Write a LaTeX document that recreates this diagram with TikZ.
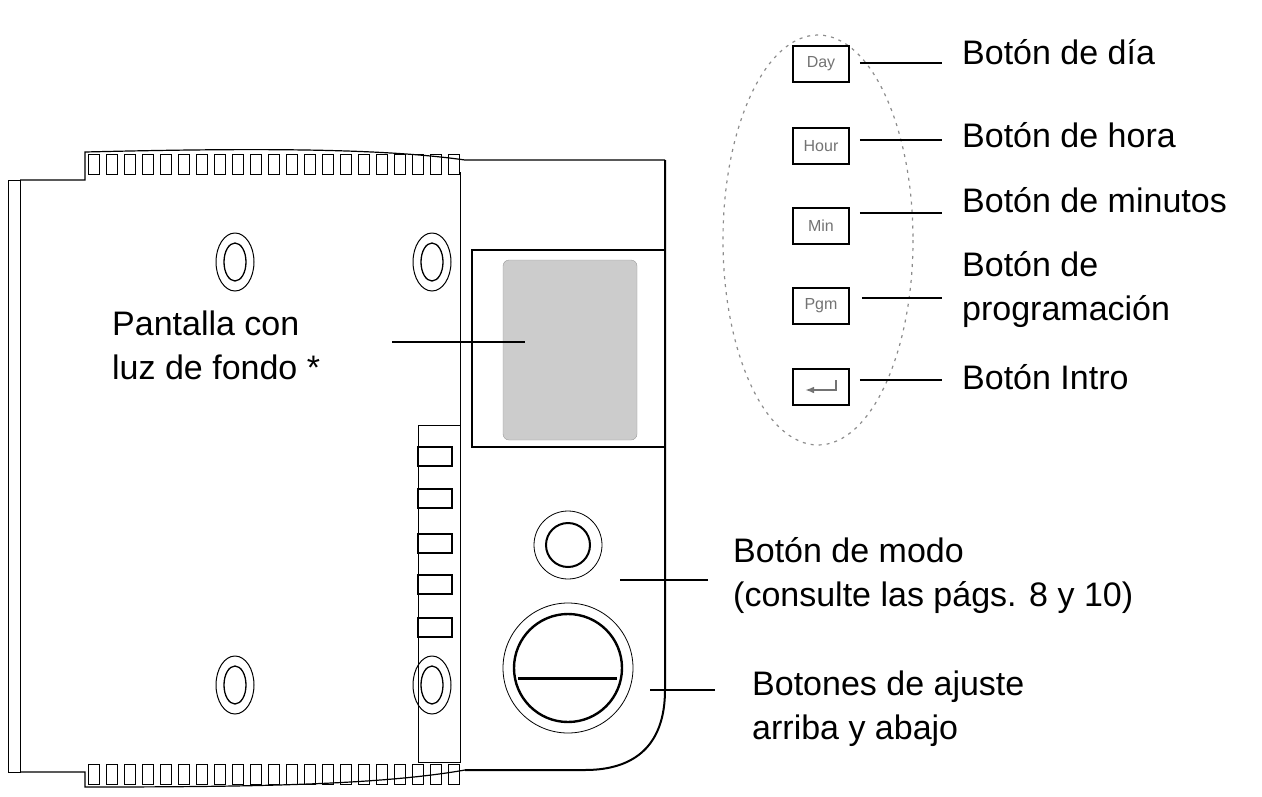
\documentclass[tikz,border=0pt]{standalone}
\usepackage{fontspec}
\setmainfont{Liberation Sans}
\usepackage{xcolor}
\usetikzlibrary{arrows.meta, positioning, calc}

\begin{document}
\begin{tikzpicture}[x=1pt, y=-1pt,
    label/.style={align=left, anchor=west, inner sep=0pt, font=\fontsize{34}{44}\selectfont},
    lead/.style={line width=1.4pt},
    key/.style={draw, line width=1.6pt, minimum width=56pt, minimum height=36pt, inner sep=0pt, font=\fontsize{16}{16}\selectfont, text=black!55},
    slot/.style={draw, line width=2pt}]
    \useasboundingbox (0,0) rectangle (1262,796);

    % Thermostat body
    \draw[line width=1pt] (8,180) rectangle (20,772);
    \draw[line width=1.2pt] (20,180) -- (85,180) -- (85,152) .. controls (250,148) and (380,148) .. (465,160)
        -- (665,160);
    \draw[line width=2pt] (665,160) -- (665,690) .. controls (665,745) and (635,770) .. (585,770) -- (465,770);
    \draw[line width=1.2pt] (465,770) .. controls (380,785) and (250,787) .. (85,787) -- (85,772) -- (20,772);
    \draw[line width=0.6pt] (460,172) -- (460,762);
    \foreach \i in {0,...,20} {
        \draw[line width=0.8pt] (88+\i*18,154) rectangle ++(11,20);
        \draw[line width=0.8pt] (88+\i*18,764) rectangle ++(11,20);
    }

    % Mounting holes
    \foreach \hx/\hy in {235/262, 432/262, 235/685, 432/685} {
        \draw[line width=1pt] (\hx,\hy) ellipse[x radius=19, y radius=29];
        \draw[line width=1.3pt] (\hx,\hy) ellipse[x radius=11, y radius=19];
    }

    % Slots
    \draw[line width=1pt] (418,425) rectangle (460,762);
    \foreach \sy in {447, 489, 534, 575, 618}
        \draw[slot] (418,\sy) rectangle ++(34,19);

    % Display
    \draw[line width=1.2pt] (665,250) -- (472,250) -- (472,447) -- (665,447);
    \node[draw=black!40, fill=black!20, rounded corners=6pt, minimum width=134pt, minimum height=180pt, inner sep=0pt] (lcd) at (570,350) {};

    % Mode and up/down buttons
    \node[circle, draw, line width=0.8pt, minimum size=68pt, inner sep=0pt] (mode) at (568,545) {};
    \draw[line width=2pt] (mode.center) circle[radius=22];
    \node[circle, draw, line width=0.8pt, minimum size=130pt, inner sep=0pt] (updown) at (568,668) {};
    \draw[line width=2.4pt] (updown.center) circle[radius=54];
    \draw[line width=3pt] (518,678) -- (617,678);

    % Key panel
    \draw[dash pattern=on 3pt off 5pt, line width=1.2pt, black!45] (818,240) ellipse[x radius=95, y radius=205];
    \node[key] (day)   at (821,64)  {Day};
    \node[key] (hour)  at (821,146) {Hour};
    \node[key] (min)   at (821,226) {Min};
    \node[key] (pgm)   at (821,306) {Pgm};
    \node[key] (enter) at (821,387) {};
    \draw[line width=2.4pt, black!55, -{Latex[length=9pt]}] (836,380) -- (836,390) -- (805,390);

    % Labels
    \node[label] (l_day)   at (962,52)  {Botón de día};
    \node[label] (l_hour)  at (962,135) {Botón de hora};
    \node[label] (l_min)   at (962,200) {Botón de minutos};
    \node[label] (l_pgm)   at (962,290) {Botón de\\programación};
    \node[label] (l_enter) at (962,377) {Botón Intro};
    \node[label] (l_lcd)   at (112,345) {Pantalla con\\luz de fondo *};
    \node[label] (l_mode)  at (733,576) {Botón de modo\\(consulte las págs. 8 y 10)};
    \node[label] (l_adj)   at (752,709) {Botones de ajuste\\arriba y abajo};

    % Leaders
    \coordinate (c_day) at (942,63);
    \coordinate (c_hour) at (942,140);
    \coordinate (c_min) at (942,213);
    \coordinate (c_pgm) at (942,298);
    \coordinate (c_enter) at (942,380);
    \draw[lead] (day.east) ++(10,-1) -- (c_day);
    \draw[lead] (hour.east) ++(10,-6) -- (c_hour);
    \draw[lead] (min.east) ++(10,-13) -- (c_min);
    \draw[lead] (pgm.east) ++(12,-8) -- (c_pgm);
    \draw[lead] (enter.east) ++(10,-7) -- (c_enter);
    \coordinate (c_lcd) at (392,342);
    \draw[lead] (c_lcd) -- ++(133,0);
    \coordinate (c_mode) at (708,580);
    \draw[lead] (c_mode) -- ++(-88,0);
    \coordinate (c_adj) at (715,690);
    \draw[lead] (c_adj) -- ++(-65,0);
\end{tikzpicture}
\end{document}
